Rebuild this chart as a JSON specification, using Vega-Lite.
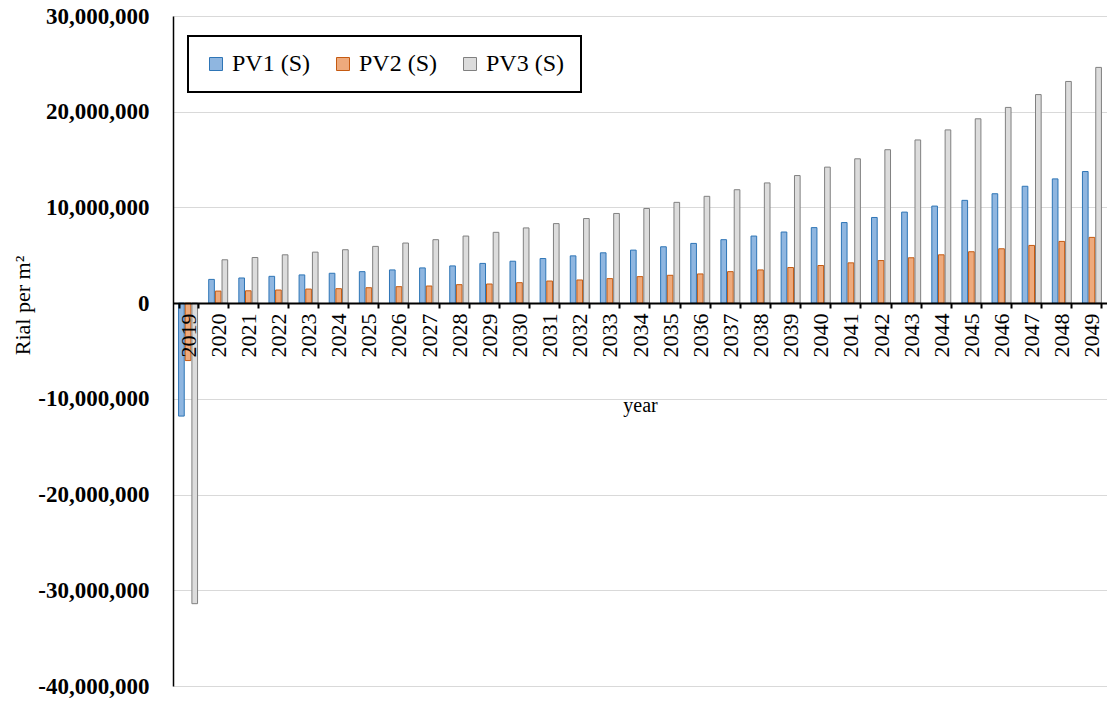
{
  "$schema": "https://vega.github.io/schema/vega-lite/v6.json",
  "width": 934,
  "height": 670,
  "autosize": {"type": "none"},
  "padding": {"left": 173, "top": 16, "right": 0, "bottom": 16},
  "background": "white",
  "config": {"view": {"stroke": null}, "legend": {"strokeWidth": 2}},
  "data": {"values": [
    {"year": "2019", "series": "PV1 (S)", "value": -11800000},
    {"year": "2019", "series": "PV2 (S)", "value": -6000000},
    {"year": "2019", "series": "PV3 (S)", "value": -31400000},
    {"year": "2020", "series": "PV1 (S)", "value": 2480000},
    {"year": "2020", "series": "PV2 (S)", "value": 1260000},
    {"year": "2020", "series": "PV3 (S)", "value": 4530000},
    {"year": "2021", "series": "PV1 (S)", "value": 2630000},
    {"year": "2021", "series": "PV2 (S)", "value": 1290000},
    {"year": "2021", "series": "PV3 (S)", "value": 4770000},
    {"year": "2022", "series": "PV1 (S)", "value": 2800000},
    {"year": "2022", "series": "PV2 (S)", "value": 1370000},
    {"year": "2022", "series": "PV3 (S)", "value": 5050000},
    {"year": "2023", "series": "PV1 (S)", "value": 2950000},
    {"year": "2023", "series": "PV2 (S)", "value": 1470000},
    {"year": "2023", "series": "PV3 (S)", "value": 5330000},
    {"year": "2024", "series": "PV1 (S)", "value": 3120000},
    {"year": "2024", "series": "PV2 (S)", "value": 1510000},
    {"year": "2024", "series": "PV3 (S)", "value": 5580000},
    {"year": "2025", "series": "PV1 (S)", "value": 3290000},
    {"year": "2025", "series": "PV2 (S)", "value": 1610000},
    {"year": "2025", "series": "PV3 (S)", "value": 5930000},
    {"year": "2026", "series": "PV1 (S)", "value": 3470000},
    {"year": "2026", "series": "PV2 (S)", "value": 1720000},
    {"year": "2026", "series": "PV3 (S)", "value": 6280000},
    {"year": "2027", "series": "PV1 (S)", "value": 3680000},
    {"year": "2027", "series": "PV2 (S)", "value": 1790000},
    {"year": "2027", "series": "PV3 (S)", "value": 6630000},
    {"year": "2028", "series": "PV1 (S)", "value": 3890000},
    {"year": "2028", "series": "PV2 (S)", "value": 1930000},
    {"year": "2028", "series": "PV3 (S)", "value": 7010000},
    {"year": "2029", "series": "PV1 (S)", "value": 4150000},
    {"year": "2029", "series": "PV2 (S)", "value": 2000000},
    {"year": "2029", "series": "PV3 (S)", "value": 7400000},
    {"year": "2030", "series": "PV1 (S)", "value": 4380000},
    {"year": "2030", "series": "PV2 (S)", "value": 2140000},
    {"year": "2030", "series": "PV3 (S)", "value": 7860000},
    {"year": "2031", "series": "PV1 (S)", "value": 4660000},
    {"year": "2031", "series": "PV2 (S)", "value": 2310000},
    {"year": "2031", "series": "PV3 (S)", "value": 8310000},
    {"year": "2032", "series": "PV1 (S)", "value": 4940000},
    {"year": "2032", "series": "PV2 (S)", "value": 2420000},
    {"year": "2032", "series": "PV3 (S)", "value": 8840000},
    {"year": "2033", "series": "PV1 (S)", "value": 5260000},
    {"year": "2033", "series": "PV2 (S)", "value": 2560000},
    {"year": "2033", "series": "PV3 (S)", "value": 9370000},
    {"year": "2034", "series": "PV1 (S)", "value": 5540000},
    {"year": "2034", "series": "PV2 (S)", "value": 2770000},
    {"year": "2034", "series": "PV3 (S)", "value": 9890000},
    {"year": "2035", "series": "PV1 (S)", "value": 5890000},
    {"year": "2035", "series": "PV2 (S)", "value": 2910000},
    {"year": "2035", "series": "PV3 (S)", "value": 10530000},
    {"year": "2036", "series": "PV1 (S)", "value": 6240000},
    {"year": "2036", "series": "PV2 (S)", "value": 3050000},
    {"year": "2036", "series": "PV3 (S)", "value": 11160000},
    {"year": "2037", "series": "PV1 (S)", "value": 6630000},
    {"year": "2037", "series": "PV2 (S)", "value": 3290000},
    {"year": "2037", "series": "PV3 (S)", "value": 11850000},
    {"year": "2038", "series": "PV1 (S)", "value": 7010000},
    {"year": "2038", "series": "PV2 (S)", "value": 3470000},
    {"year": "2038", "series": "PV3 (S)", "value": 12560000},
    {"year": "2039", "series": "PV1 (S)", "value": 7430000},
    {"year": "2039", "series": "PV2 (S)", "value": 3720000},
    {"year": "2039", "series": "PV3 (S)", "value": 13330000},
    {"year": "2040", "series": "PV1 (S)", "value": 7890000},
    {"year": "2040", "series": "PV2 (S)", "value": 3930000},
    {"year": "2040", "series": "PV3 (S)", "value": 14210000},
    {"year": "2041", "series": "PV1 (S)", "value": 8420000},
    {"year": "2041", "series": "PV2 (S)", "value": 4210000},
    {"year": "2041", "series": "PV3 (S)", "value": 15080000},
    {"year": "2042", "series": "PV1 (S)", "value": 8950000},
    {"year": "2042", "series": "PV2 (S)", "value": 4450000},
    {"year": "2042", "series": "PV3 (S)", "value": 16030000},
    {"year": "2043", "series": "PV1 (S)", "value": 9510000},
    {"year": "2043", "series": "PV2 (S)", "value": 4740000},
    {"year": "2043", "series": "PV3 (S)", "value": 17050000},
    {"year": "2044", "series": "PV1 (S)", "value": 10140000},
    {"year": "2044", "series": "PV2 (S)", "value": 5050000},
    {"year": "2044", "series": "PV3 (S)", "value": 18100000},
    {"year": "2045", "series": "PV1 (S)", "value": 10740000},
    {"year": "2045", "series": "PV2 (S)", "value": 5370000},
    {"year": "2045", "series": "PV3 (S)", "value": 19260000},
    {"year": "2046", "series": "PV1 (S)", "value": 11430000},
    {"year": "2046", "series": "PV2 (S)", "value": 5680000},
    {"year": "2046", "series": "PV3 (S)", "value": 20450000},
    {"year": "2047", "series": "PV1 (S)", "value": 12210000},
    {"year": "2047", "series": "PV2 (S)", "value": 6030000},
    {"year": "2047", "series": "PV3 (S)", "value": 21790000},
    {"year": "2048", "series": "PV1 (S)", "value": 12980000},
    {"year": "2048", "series": "PV2 (S)", "value": 6450000},
    {"year": "2048", "series": "PV3 (S)", "value": 23160000},
    {"year": "2049", "series": "PV1 (S)", "value": 13750000},
    {"year": "2049", "series": "PV2 (S)", "value": 6870000},
    {"year": "2049", "series": "PV3 (S)", "value": 24630000}
  ]},
  "mark": {"type": "bar", "strokeWidth": 1},
  "encoding": {
    "x": {
      "field": "year", "type": "nominal", "sort": "ascending",
      "scale": {"paddingInner": 0.37, "paddingOuter": 0.185},
      "axis": {
        "title": "year", "orient": "bottom", "offset": -383, "zindex": 1,
        "labelAngle": -90, "labelFont": "Liberation Serif", "labelFontSize": 22,
        "labelColor": "black", "labelPadding": 5,
        "tickBand": "extent", "tickColor": "black", "tickSize": 5, "tickWidth": 2,
        "domainColor": "black", "domainWidth": 2, "grid": false,
        "titleFont": "Liberation Serif", "titleFontSize": 20, "titleFontWeight": "normal",
        "titleColor": "black", "titlePadding": 38
      }
    },
    "xOffset": {"field": "series", "type": "nominal", "scale": {"paddingInner": 0.15}},
    "y": {
      "field": "value", "type": "quantitative",
      "scale": {"domain": [-40000000, 30000000], "nice": false, "zero": false},
      "axis": {
        "title": "Rial per m²", "values": [-40000000, -30000000, -20000000, -10000000, 0, 10000000, 20000000, 30000000],
        "labelExpr": "(datum.value < 0 ? '-' : '') + format(abs(datum.value), ',.0f')",
        "labelFont": "Liberation Serif", "labelFontSize": 23, "labelFontWeight": "bold",
        "labelColor": "black", "labelPadding": 24, "ticks": false,
        "grid": true, "gridColor": "#d9d9d9", "gridWidth": 1,
        "domainColor": "black", "domainWidth": 1.5,
        "titleFont": "Liberation Serif", "titleFontSize": 22, "titleFontWeight": "normal", "titleColor": "black",
        "titleAngle": 270, "titleX": -151, "titleY": 289, "titleAlign": "center", "titleBaseline": "middle"
      }
    },
    "fill": {
      "field": "series", "type": "nominal",
      "scale": {"domain": ["PV1 (S)", "PV2 (S)", "PV3 (S)"], "range": ["#8fb6e0", "#eeaa7c", "#dcdcdc"]},
      "legend": {
        "title": null, "orient": "none", "legendX": 15, "legendY": 20, "direction": "horizontal",
        "labelFont": "Liberation Serif", "labelFontSize": 24, "labelColor": "black", "labelOffset": 4,
        "symbolType": "square", "symbolSize": 169, "symbolStrokeWidth": 1,
        "columnPadding": 20, "padding": 16, "strokeColor": "black", "fillColor": "white"
      }
    },
    "stroke": {
      "field": "series", "type": "nominal",
      "scale": {"domain": ["PV1 (S)", "PV2 (S)", "PV3 (S)"], "range": ["#2e75b6", "#c55a11", "#808080"]}
    }
  }
}
